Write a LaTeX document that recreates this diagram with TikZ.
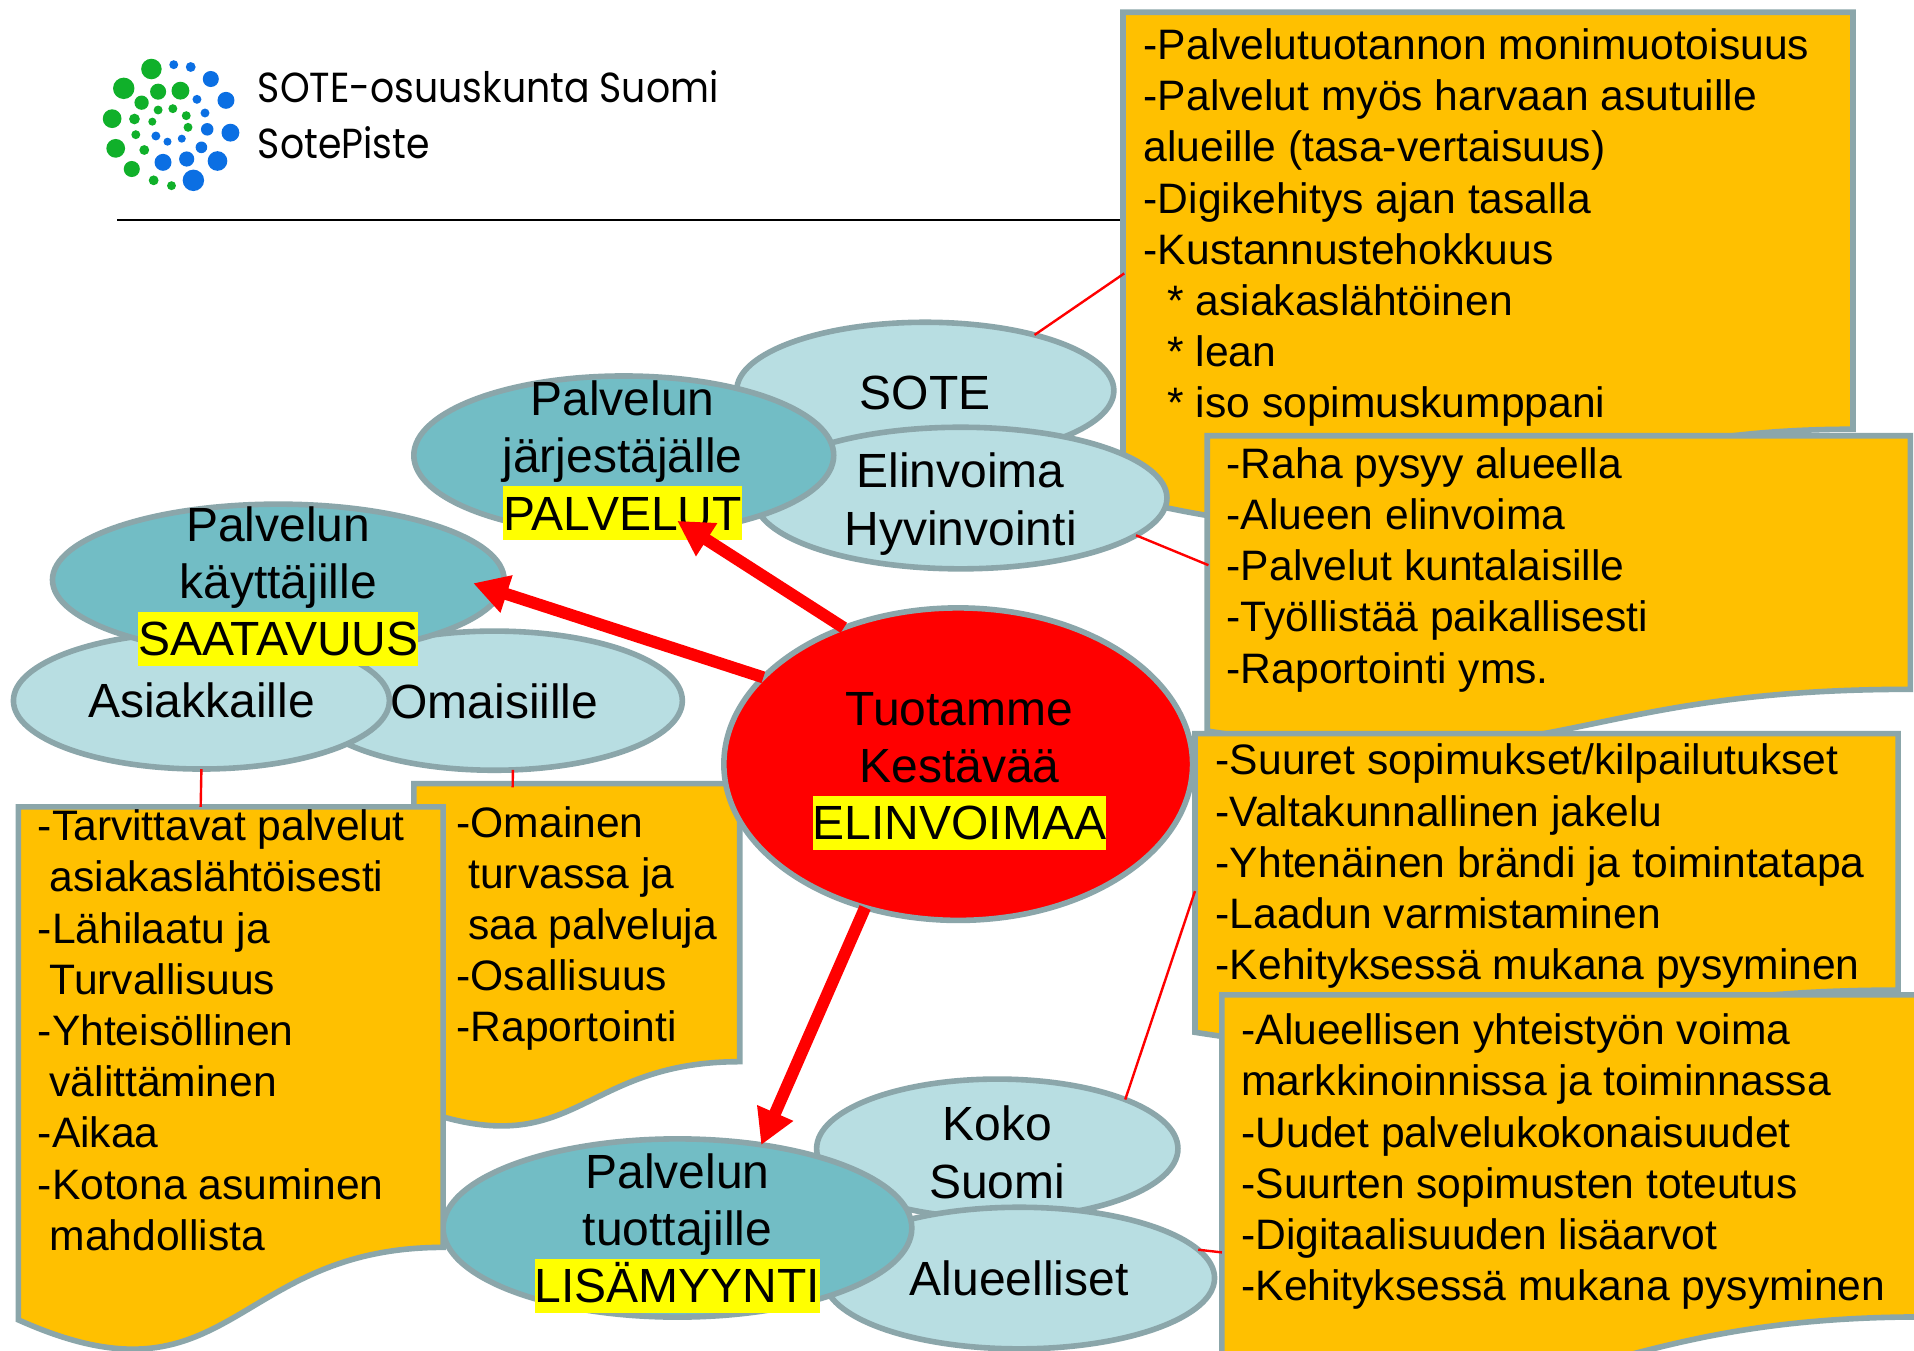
\documentclass[tikz,border=0pt]{standalone}
\usepackage{fontspec}
\setmainfont{Liberation Sans}
\newfontfamily\logofont[FakeStretch=0.9]{Poppins}
\usetikzlibrary{shapes.geometric,arrows.meta,calc}
\definecolor{edgegrey}{HTML}{8BA6AA}
\definecolor{tealdark}{HTML}{72BDC5}
\definecolor{teallight}{HTML}{B8DEE2}
\definecolor{docorange}{HTML}{FFC000}
\definecolor{logogreen}{HTML}{10B02A}
\definecolor{logoblue}{HTML}{0B6FE3}
\definecolor{hlyellow}{RGB}{255,255,0}
\definecolor{purered}{RGB}{255,0,0}
\newcommand{\hl}[1]{{\setlength{\fboxsep}{0pt}\colorbox{hlyellow}{\rule[-4.9pt]{0pt}{26.9pt}#1}}}
\newcommand{\ind}{\hspace*{5.9pt}}
\newcommand{\indd}{\hspace*{11.8pt}}
% flowchart-document outline: x, y, w, h
\newcommand{\docshape}[4]{%
  \draw[docbox] (#1,#2) -- ++(#3,0) -- ++(0,{0.80194*#4})
    .. controls ++({-0.5*#3},0) and ({#1+0.5*#3},{#2+1.10750*#4}) .. ({#1},{#2+0.93389*#4}) -- cycle;}
\tikzset{
  x=0.61035pt,y=-0.61035pt,
  docbox/.style={draw=edgegrey,fill=docorange,line width=2.8pt,line join=miter},
  doctext/.style={anchor=north west,inner sep=0pt,outer sep=0pt,align=left,font=\fontsize{21.3}{25.6}\selectfont},
  esize/.style 2 args={minimum width={(#1-2)*0.61035pt},minimum height={(#2-2)*0.61035pt}},
  ell/.style={ellipse,draw=edgegrey,line width=2.8pt,inner sep=0pt,outer sep=0pt},
  elldark/.style={ell,fill=tealdark},
  elllight/.style={ell,fill=teallight},
  ellred/.style={ell,fill=purered},
  elltext/.style={inner sep=0pt,outer sep=0pt,align=center,font=\fontsize{24}{28.7}\selectfont},
  thinlink/.style={draw=purered,line width=1.2pt},
  bigarrow/.style={draw=purered,line width=6pt,-{Triangle[length=17.5pt,width=18.5pt,fill=purered]}},
  logotext/.style={anchor=west,inner sep=0pt,font=\logofont\fontsize{21}{24}\selectfont},
}
\begin{document}
\begin{tikzpicture}
\clip (0,0) rectangle (1568,1106);
\fill[white] (0,0) rectangle (1568,1106);

% logo
\begin{scope}[x=0.5pt,y=-0.5pt]
\foreach \a/\b/\r in {160/87/23,98/145/24,175/155/18,225/152/20,138/188/16,175/210/10,208/206/10,238/227/10,72/236/21,122/237/12,162/245/9,242/262/10,125/284/10,80/325/21,144/330/11,116/387/18,165/421/11,205/437/10}
  \fill[logogreen] ({80+\a/2.24},{40+\b/3}) circle[radius={\r/2.24*0.5pt}];
\foreach \a/\b/\r in {210/74/10,248/81/11,293/117/18,327/181/19,262/178/10,280/219/10,285/268/14,337/278/20,170/288/10,196/305/9,228/296/9,272/322/13,308/363/22,186/367/19,239/357/17,254/421/24}
  \fill[logoblue] ({80+\a/2.24},{40+\b/3}) circle[radius={\r/2.24*0.5pt}];
\end{scope}
\node[logotext] (logoA) at (211,71) {SOTE-osuuskunta Suomi};
\node[logotext] (logoB) at (211,117) {SotePiste};
\draw[line width=1pt] (96,180) -- (922,180);

% link end points on the boxes
\coordinate (endA) at (921,224);
\coordinate (endB) at (990,463);
\coordinate (endC) at (979,730);
\coordinate (endD) at (1001,1026);
\coordinate (endE) at (164.4,661);
\coordinate (endF) at (420,645);

% top document box
\docshape{920}{10}{598}{426}
\node[doctext] (textA) at (937,23.5) {-Palvelutuotannon monimuotoisuus\\-Palvelut myös harvaan asutuille\\alueille (tasa-vertaisuus)\\-Digikehitys ajan tasalla\\-Kustannustehokkuus\\\indd* asiakaslähtöinen\\\indd* lean\\\indd* iso sopimuskumppani};

% upper service ellipses
\node[elllight,esize={311}{114}] (sote) at (758,320) {};
\node[elltext,yshift=-1pt] (sotet) at (sote) {SOTE};
\node[elllight,esize={340}{118}] (elin) at (787,408) {};
\node[elltext,yshift=-3pt] (elint) at (elin) {Elinvoima\\Hyvinvointi};
\node[elldark,esize={346}{132}] (jarj) at (511,373) {};
\node[elltext,xshift=-0.6pt,yshift=-2.4pt] (jarjt) at (jarj) {Palvelun\\järjestäjälle\\\hl{PALVELUT}};

% second and third document boxes
\docshape{989}{357}{576}{259}
\node[doctext] (textB) at (1005,366.5) {-Raha pysyy alueella\\-Alueen elinvoima\\-Palvelut kuntalaisille\\-Työllistää paikallisesti\\-Raportointi yms.};
\docshape{979}{601}{576}{262}
\node[doctext] (textC) at (996,609.5) {-Suuret sopimukset/kilpailutukset\\-Valtakunnallinen jakelu\\-Yhtenäinen brändi ja toimintatapa\\-Laadun varmistaminen\\-Kehityksessä mukana pysyminen};

% lower right ellipses
\node[elllight,esize={298}{116}] (koko) at (817,941) {};
\node[elltext,yshift=-1.8pt] (kokot) at (koko) {Koko\\Suomi};
\node[elllight,esize={322}{118}] (alue) at (835,1047) {};
\node[elltext] (aluet) at (alue) {Alueelliset};
\node[elldark,esize={386}{148}] (tuot) at (555,1006) {};
\node[elltext,yshift=-2.5pt] (tuott) at (tuot) {Palvelun\\tuottajille\\\hl{LISÄMYYNTI}};

% fourth document box
\docshape{1001}{815}{575}{329}
\node[doctext] (textD) at (1017,830.5) {-Alueellisen yhteistyön voima\\markkinoinnissa ja toiminnassa\\-Uudet palvelukokonaisuudet\\-Suurten sopimusten toteutus\\-Digitaalisuuden lisäarvot\\-Kehityksessä mukana pysyminen};

% left ellipses and document boxes
\docshape{339}{642}{267}{284}
\node[doctext] (textF) at (374,660.5) {-Omainen\\\ind turvassa ja\\\ind saa palveluja\\-Osallisuus\\-Raportointi};
\docshape{15}{661}{348}{450}
\node[doctext] (textE) at (31,663.5) {-Tarvittavat palvelut\\\ind asiakaslähtöisesti\\-Lähilaatu ja\\\ind Turvallisuus\\-Yhteisöllinen\\\ind välittäminen\\-Aikaa\\-Kotona asuminen\\\ind mahdollista};
\node[elllight,esize={310}{116}] (omai) at (405,574) {};
\node[elltext,yshift=-0.5pt] (omait) at (omai) {Omaisiille};
\node[elllight,esize={310}{114}] (asia) at (165,574) {};
\node[elltext] (asiat) at (asia) {Asiakkaille};
\node[elldark,esize={372}{126}] (kayt) at (228,475) {};
\node[elltext,yshift=-3.1pt] (kaytt) at (kayt) {Palvelun\\käyttäjille\\\hl{SAATAVUUS}};

% centre
\node[ellred,esize={386}{258}] (center) at (785,626) {};
\node[elltext,xshift=0.6pt,yshift=-3.4pt] (centert) at (center) {Tuotamme\\Kestävää\\\hl{ELINVOIMAA}};

% thin links
\draw[thinlink] (sote.27.6) -- (endA);
\draw[thinlink] (elin.-12) -- (endB);
\draw[thinlink] (koko.21.3) -- (endC);
\draw[thinlink] (alue.9.4) -- (endD);
\draw[thinlink] (asia.-90) -- (endE);
\draw[thinlink] (omai.-75) -- (endF);

% thick arrows
\draw[bigarrow] (center.130.8) -- ($(jarj)+(43.8,53.7)$);
\draw[bigarrow] (center.156.5) -- ($(kayt)+(159.7,2.8)$);
\draw[bigarrow] (center.-123.8) -- ($(tuot)+(68.6,-68)$);
\end{tikzpicture}
\end{document}
